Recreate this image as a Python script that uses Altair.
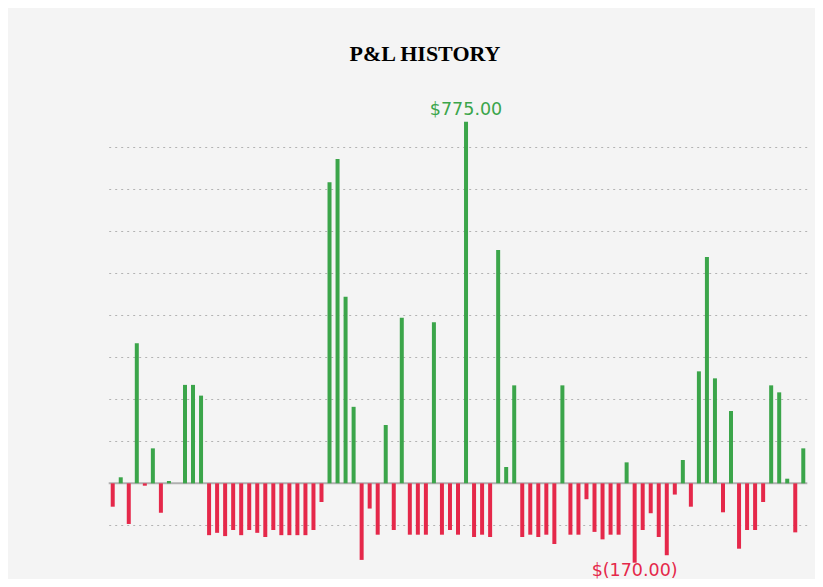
import altair as alt
import pandas as pd

# P&L values per period
pnl = [-50, 13, -87, 300, -5, 75, -63, 5, 0, 211, 211, 188,
       -111, -106, -113, -100, -111, -100, -106, -115, -100, -111, -111, -111, -111, -100, -40,
       645, 695, 400, 164, -164, -54, -110, 125, -100, 355, -110, -110, -110,
       345, -110, -100, -110, 775, -115, -110, -115, 500, 35,
       210, -115, -110, -115, -110, -130, 210, -110, -110, -34,
       -104, -120, -110, -110, 45, -170, -100, -64, -115, -154,
       -24, 50, -50, 240, 485, 225, -62, 155, -140, -100,
       -100, -40, 210, 195, 10, -105, 75]
grid_values = [-90, 90, 180, 270, 360, 450, 540, 630, 720]
title_text = "P&L HISTORY"

GREEN = "#3ba54a"
RED = "#e5284a"


def fmt(v):
    return f"${v:,.2f}" if v >= 0 else f"$({-v:,.2f})"


df = pd.DataFrame({"i": list(range(len(pnl))), "pnl": pnl})
vmax, vmin = max(pnl), min(pnl)
df["label"] = [fmt(v) if v in (vmax, vmin) else "" for v in pnl]

W, H = 698.6, 466.7
PL, PT = 100.7, 102.0
TOTAL_W, TOTAL_H = 807, 571

x_enc = alt.X("i:O", axis=None, scale=alt.Scale(paddingInner=0, paddingOuter=0))
y_scale = alt.Scale(domain=[-200, 800], nice=False, zero=False)

base = alt.Chart(df)

bars = base.mark_bar(size=4).encode(
    x=x_enc,
    y=alt.Y("pnl:Q", scale=y_scale,
            axis=alt.Axis(values=grid_values, grid=True, gridDash=[2, 4],
                          gridColor="#b3b3b3", gridWidth=1, labels=False,
                          ticks=False, domain=False, title=None)),
    color=alt.condition(alt.datum.pnl >= 0, alt.value(GREEN), alt.value(RED)),
)

zero = alt.Chart(pd.DataFrame({"z": [0]})).mark_rule(color="#b0b0b0", strokeWidth=2).encode(
    y=alt.Y("z:Q", scale=y_scale)
)

top_lbl = base.transform_filter(alt.datum.pnl == vmax).mark_text(
    font="DejaVu Sans", fontSize=17.5, color=GREEN, baseline="alphabetic", dy=-7
).encode(x=x_enc, y=alt.Y("pnl:Q", scale=y_scale), text="label:N")

bot_lbl = base.transform_filter(alt.datum.pnl == vmin).mark_text(
    font="DejaVu Sans", fontSize=17.5, color=RED, baseline="alphabetic", dy=13
).encode(x=x_enc, y=alt.Y("pnl:Q", scale=y_scale), text="label:N")

title = alt.Chart(pd.DataFrame({"t": [title_text]})).mark_text(
    font="Liberation Serif", fontWeight="bold", fontSize=22, color="black",
    baseline="alphabetic", align="center"
).encode(x=alt.value(316.3), y=alt.value(-49), text="t:N")

chart = alt.layer(zero, bars, top_lbl, bot_lbl, title).properties(
    width=W, height=H,
    autosize=alt.AutoSizeParams(type="none"),
    padding={"left": PL, "top": PT, "right": TOTAL_W - PL - W, "bottom": TOTAL_H - PT - H},
    background="#f4f4f4",
).configure_view(stroke=None)

chart.save("out.html", embed_options={"renderer": "svg", "actions": False})
